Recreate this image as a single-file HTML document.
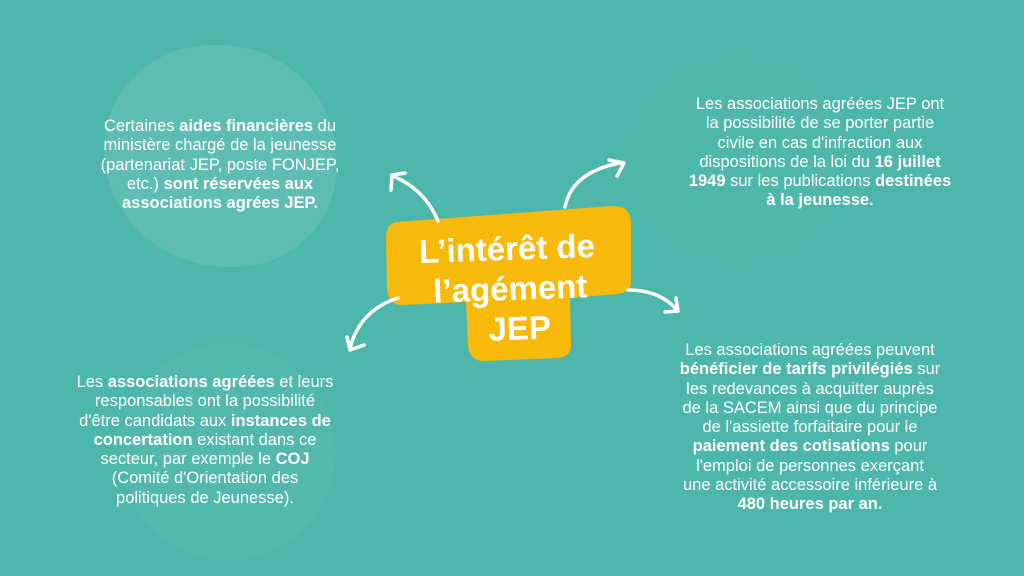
<!DOCTYPE html>
<html><head><meta charset="utf-8"><style>
body{margin:0;width:1024px;height:576px;background:#4bb6a9;position:relative;overflow:hidden;font-family:"Liberation Sans",sans-serif;color:#fff}
.blob{position:absolute;background:#5dbdb2;border-radius:50%}
.t{position:absolute;text-align:center;font-size:16.5px;line-height:19.3px;font-weight:normal}
b{font-weight:bold}
</style></head><body>
<div class="blob" style="left:104px;top:45px;width:232px;height:222px;border-radius:48% 52% 45% 55%"></div>
<div class="blob" style="left:630px;top:60px;width:210px;height:200px;background:#4eb7aa"></div>
<div class="blob" style="left:120px;top:345px;width:215px;height:215px;background:#52b8ab"></div>
<div class="t" style="left:70px;top:117px;width:300px">Certaines <b>aides financières</b> du<br>ministère chargé de la jeunesse<br>(partenariat JEP, poste FONJEP,<br>etc.) <b>sont réservées aux<br>associations agrées JEP.</b></div>
<div class="t" style="left:660px;top:95px;width:320px">Les associations agréées JEP ont<br>la possibilité de se porter partie<br>civile en cas d'infraction aux<br>dispositions de la loi du <b>16 juillet<br>1949</b> sur les publications <b>destinées<br>à la jeunesse.</b></div>
<div class="t" style="left:640px;top:341px;width:340px">Les associations agréées peuvent<br><b>bénéficier de tarifs privilégiés</b> sur<br>les redevances à acquitter auprès<br>de la SACEM ainsi que du principe<br>de l'assiette forfaitaire pour le<br><b>paiement des cotisations</b> pour<br>l'emploi de personnes exerçant<br>une activité accessoire inférieure à<br><b>480 heures par an.</b></div>
<div class="t" style="left:45px;top:373px;width:320px">Les <b>associations agréées</b> et leurs<br>responsables ont la possibilité<br>d'être candidats aux <b>instances de<br>concertation</b> existant dans ce<br>secteur, par exemple le <b>COJ</b><br>(Comité d'Orientation des<br>politiques de Jeunesse).</div>
<svg style="position:absolute;left:0;top:0" width="1024" height="576">
<g fill="#f7b90a">
<path d="M397 222 Q385 224 386 240 L387 290 Q389 306 404 305 L466 302 L468 346 Q470 362 486 361 L558 358 Q572 357 571 343 L570 298 L618 294 Q632 292 631 280 L631 222 Q630 205 612 206 Z"/>
</g>
<g fill="none" stroke="#fff" stroke-width="3.5" stroke-linecap="round" stroke-linejoin="round">
<path d="M438 221 Q425 190 395 177"/><path d="M391 190 L392 175 L405 173"/>
<path d="M565 207 Q572 172 620 163"/><path d="M609 160 L624 163 L617 176"/>
<path d="M628 290 Q660 290 677 310"/><path d="M665 312 L678 311 L676 298"/>
<path d="M398 298 Q360 310 350 348"/><path d="M347 337 L350 350 L364 345"/>
</g>
<g fill="#fff" font-family="Liberation Sans, sans-serif" font-weight="bold" font-size="33" text-anchor="middle" transform="rotate(-2 508 280)">
<text x="508" y="260">L’intérêt de</text>
<text x="510" y="300">l’agément</text>
<text x="518" y="340">JEP</text>
</g>
</svg>
</body></html>
